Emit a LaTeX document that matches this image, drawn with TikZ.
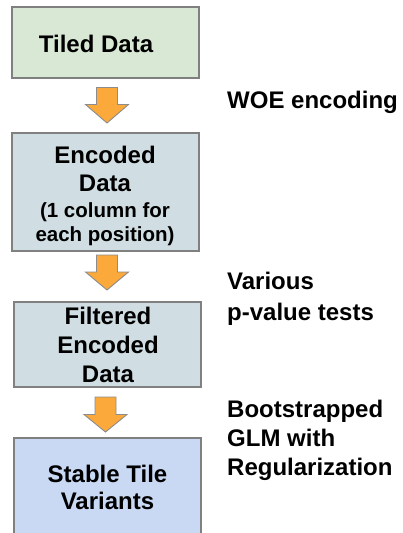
\documentclass[tikz,border=0pt]{standalone}
\usepackage{fontspec}
\setmainfont{Liberation Sans}
\begin{document}
\begin{tikzpicture}[x=1pt,y=-1pt,
  box/.style={draw=black!50, line width=1.5pt, inner sep=0pt, align=center,
    font=\bfseries\fontsize{24}{28.5}\selectfont},
  small/.style={font=\bfseries\fontsize{20.5}{24}\selectfont},
  side/.style={anchor=base west, inner sep=0pt, align=left,
    font=\bfseries\fontsize{24}{30}\selectfont},
  flow/.style={fill=orange!75!yellow!90!red, draw=black!45, line width=0.9pt, line join=miter}
]
\definecolor{gbox}{HTML}{D9E8D4}
\definecolor{bbox}{HTML}{D0DEE3}
\definecolor{vbox}{HTML}{C9D9F4}
\definecolor{arr}{HTML}{FBA93B}
\useasboundingbox (0,0) rectangle (403,533);
\clip (0,0) rectangle (403,533);
% boxes
\node[box, fill=gbox, minimum width=187pt, minimum height=71pt] (b1) at (105.5,42.5) {};
\node[font=\bfseries\fontsize{24}{28}\selectfont, anchor=base, inner sep=0pt] (t1) at (96,52) {Tiled Data};
\node[box, fill=bbox, minimum width=187pt, minimum height=118pt] (b2) at (105.5,192) {};
\node[anchor=base, inner sep=0pt, font=\bfseries\fontsize{24}{28}\selectfont] (t2a) at (105,163.5) {Encoded};
\node[anchor=base, inner sep=0pt, font=\bfseries\fontsize{24}{28}\selectfont] (t2b) at (105,191.5) {Data};
\node[anchor=base, inner sep=0pt, small] (t2c) at (105,217) {(1 column for};
\node[anchor=base, inner sep=0pt, small] (t2d) at (105,241) {each position)};
\node[box, fill=bbox, minimum width=187pt, minimum height=85pt] (b3) at (107.5,344.5) {};
\node[anchor=base, inner sep=0pt, font=\bfseries\fontsize{24}{28}\selectfont] (t3a) at (108,324.5) {Filtered};
\node[anchor=base, inner sep=0pt, font=\bfseries\fontsize{24}{28}\selectfont] (t3b) at (108,353.5) {Encoded};
\node[anchor=base, inner sep=0pt, font=\bfseries\fontsize{24}{28}\selectfont] (t3c) at (108,382) {Data};
\node[box, fill=vbox, minimum width=187pt, minimum height=112pt] (b4) at (107.5,494) {};
\node[anchor=base, inner sep=0pt, font=\bfseries\fontsize{24}{28}\selectfont] (t4a) at (107.5,482) {Stable Tile};
\node[anchor=base, inner sep=0pt, font=\bfseries\fontsize{24}{28}\selectfont] (t4b) at (107.5,509.5) {Variants};
% arrows
\newcommand{\downarrowshape}[6]{% cx, top, shoulder, tip, halfshaft, halfhead
  \draw[flow, fill=arr] (#1-#5,#2) -- (#1+#5,#2) -- (#1+#5,#3) -- (#1+#6,#3) -- (#1,#4)
    -- (#1-#6,#3) -- (#1-#5,#3) -- cycle;}
\downarrowshape{107}{87.5}{104.5}{123}{10.5}{21.5}
\downarrowshape{107}{255}{272}{290}{10.5}{21.5}
\downarrowshape{105.5}{397}{414.5}{432}{10.5}{21.5}
% side labels
\node[side] (s1) at (227,108) {WOE encoding};
\node[side] (s2) at (227,289) {Various};
\node[side] (s3) at (227,320) {p-value tests};
\node[side] (s4) at (227,417) {Bootstrapped};
\node[side] (s5) at (227,446.5) {GLM with};
\node[side] (s6) at (227,475) {Regularization};
\end{tikzpicture}
\end{document}
